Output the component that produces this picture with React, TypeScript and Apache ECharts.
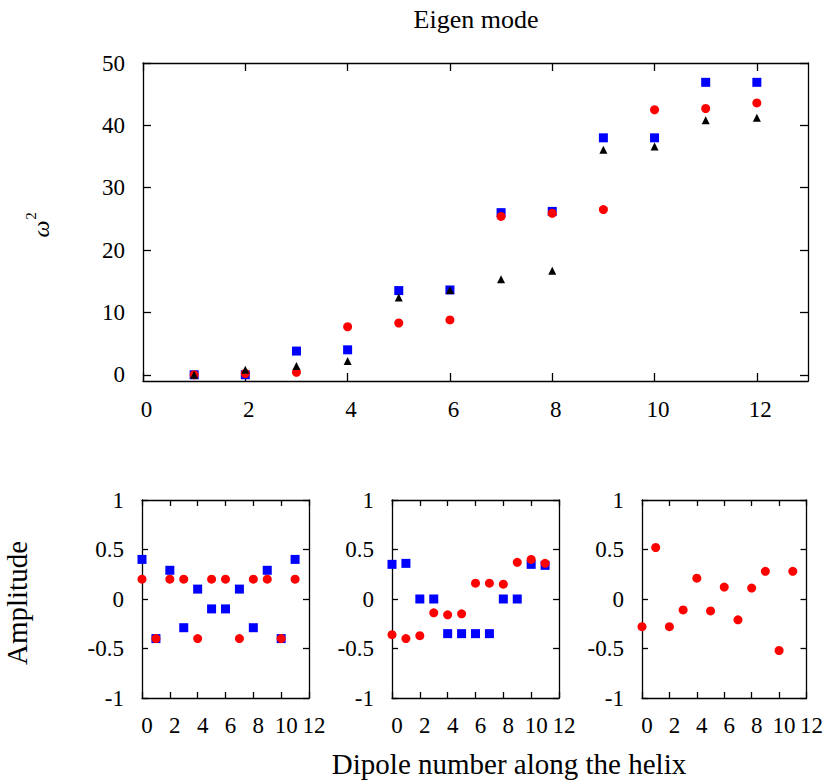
import React, { useEffect, useRef } from "react";
import * as echarts from "echarts";

// ---- data ----
const modeIndex = [1, 2, 3, 4, 5, 6, 7, 8, 9, 10, 11, 12];
const omegaBlue = [0, 0, 3.8, 4.0, 13.5, 13.6, 26.0, 26.2, 38.0, 38.0, 46.9, 46.9];
const omegaRed = [0, 0.2, 0.4, 7.7, 8.3, 8.8, 25.4, 25.9, 26.5, 42.5, 42.7, 43.6];
const omegaBlack = [0, 0.8, 1.4, 2.2, 12.4, 13.6, 15.3, 16.7, 36.1, 36.6, 40.8, 41.2];

const dipole = [0, 1, 2, 3, 4, 5, 6, 7, 8, 9, 10, 11];
const mode1Blue = [0.4, -0.4, 0.29, -0.29, 0.1, -0.1, -0.1, 0.1, -0.29, 0.29, -0.4, 0.4];
const mode1Red = [0.2, -0.4, 0.2, 0.2, -0.4, 0.2, 0.2, -0.4, 0.2, 0.2, -0.4, 0.2];
const mode2Blue = [0.35, 0.36, 0, 0, -0.35, -0.35, -0.35, -0.35, 0, 0, 0.35, 0.34];
const mode2Red = [-0.36, -0.4, -0.37, -0.14, -0.16, -0.15, 0.16, 0.16, 0.15, 0.37, 0.4, 0.36];
const mode3Red = [-0.28, 0.52, -0.28, -0.11, 0.21, -0.12, 0.12, -0.21, 0.11, 0.28, -0.52, 0.28];

const topXTicks = [0, 2, 4, 6, 8, 10, 12];
const topYTicks = [0, 10, 20, 30, 40, 50];
const ampXTicks = [0, 2, 4, 6, 8, 10, 12];
const ampYTicks = [-1, -0.5, 0, 0.5, 1];

const FONT = "Liberation Serif";
const BLUE = "#0000ff";
const RED = "#ff0000";
const BLACK = "#000000";

const pairs = (xs: number[], ys: number[]) => xs.map((x, i) => [x, ys[i]]);

function axisPair(
  kind: "x" | "y",
  gridIndex: number,
  min: number,
  max: number,
  ticks: number[],
  tickLen: number,
  labelMargin: number,
  labelShift: number
) {
  const line = { show: true, onZero: false, lineStyle: { color: BLACK, width: 1.3 } };
  const tick = {
    show: true,
    inside: true,
    length: tickLen,
    customValues: ticks,
    lineStyle: { color: BLACK, width: 1.3 },
  };
  const main = {
    type: "value",
    gridIndex,
    min,
    max,
    position: kind === "x" ? "bottom" : "left",
    axisLine: line,
    axisTick: tick,
    axisLabel: {
      show: true,
      customValues: ticks,
      margin: labelMargin,
      padding: kind === "x" ? [0, 0, 0, labelShift * 2] : 0,
      fontFamily: FONT,
      fontSize: 23,
      color: BLACK,
      formatter: (v: number) => String(v),
    },
    splitLine: { show: false },
  };
  const mirror = {
    type: "value",
    gridIndex,
    min,
    max,
    position: kind === "x" ? "top" : "right",
    axisLine: line,
    axisTick: tick,
    axisLabel: { show: false },
    splitLine: { show: false },
  };
  return [main, mirror];
}

const txt = (
  text: string,
  x: number,
  y: number,
  size: number,
  rotation = 0,
  fontStyle = "normal"
) => ({
  type: "text",
  x,
  y,
  rotation,
  style: {
    text,
    fontFamily: FONT,
    fontSize: size,
    fontStyle,
    fill: BLACK,
    align: "center",
    verticalAlign: "middle",
  },
});

export default function App() {
  const ref = useRef<HTMLDivElement>(null);

  useEffect(() => {
    document.body.style.margin = "0";
    if (!ref.current) return;
    const chart = echarts.init(ref.current, null, { renderer: "svg" });

    const grids = [
      { left: 143, top: 63, width: 665, height: 318 },
      { left: 142, top: 500, width: 167, height: 198 },
      { left: 392, top: 500, width: 167, height: 198 },
      { left: 642, top: 500, width: 166, height: 198 },
    ];

    const xAxes: any[] = [
      ...axisPair("x", 0, 0, 13, topXTicks, 8, 17, 3.5),
      ...axisPair("x", 1, 0, 12, ampXTicks, 6, 16, 5),
      ...axisPair("x", 2, 0, 12, ampXTicks, 6, 16, 5),
      ...axisPair("x", 3, 0, 12, ampXTicks, 6, 16, 5),
    ];
    const yAxes: any[] = [
      ...axisPair("y", 0, -1, 50, topYTicks, 8, 18, 0),
      ...axisPair("y", 1, -1, 1, ampYTicks, 6, 18, 0),
      ...axisPair("y", 2, -1, 1, ampYTicks, 6, 18, 0),
      ...axisPair("y", 3, -1, 1, ampYTicks, 6, 18, 0),
    ];

    const sc = (g: number, data: number[][], color: string, symbol: string, size: number) => ({
      type: "scatter",
      xAxisIndex: 2 * g,
      yAxisIndex: 2 * g,
      data,
      symbol,
      symbolSize: size,
      clip: false,
      itemStyle: { color, opacity: 1 },
      emphasis: { disabled: true },
      silent: true,
    });

    chart.setOption({
      animation: false,
      backgroundColor: "#ffffff",
      grid: grids,
      xAxis: xAxes,
      yAxis: yAxes,
      series: [
        sc(0, pairs(modeIndex, omegaBlue), BLUE, "rect", 9),
        sc(0, pairs(modeIndex, omegaRed), RED, "circle", 9),
        sc(0, pairs(modeIndex, omegaBlack), BLACK, "triangle", 8),
        sc(1, pairs(dipole, mode1Blue), BLUE, "rect", 9),
        sc(1, pairs(dipole, mode1Red), RED, "circle", 9),
        sc(2, pairs(dipole, mode2Blue), BLUE, "rect", 9),
        sc(2, pairs(dipole, mode2Red), RED, "circle", 9),
        sc(3, pairs(dipole, mode3Red), RED, "circle", 9),
      ],
      graphic: [
        txt("Eigen mode", 476, 19, 26),
        txt("Dipole number along the helix", 509, 764, 29),
        txt("Amplitude", 17, 603, 29, Math.PI / 2),
        txt("ω", 41, 229, 24, Math.PI / 2, "italic"),
        txt("2", 31, 216, 15, Math.PI / 2),
      ],
    });

    return () => chart.dispose();
  }, []);

  return <div ref={ref} style={{ width: 826, height: 781 }} />;
}
